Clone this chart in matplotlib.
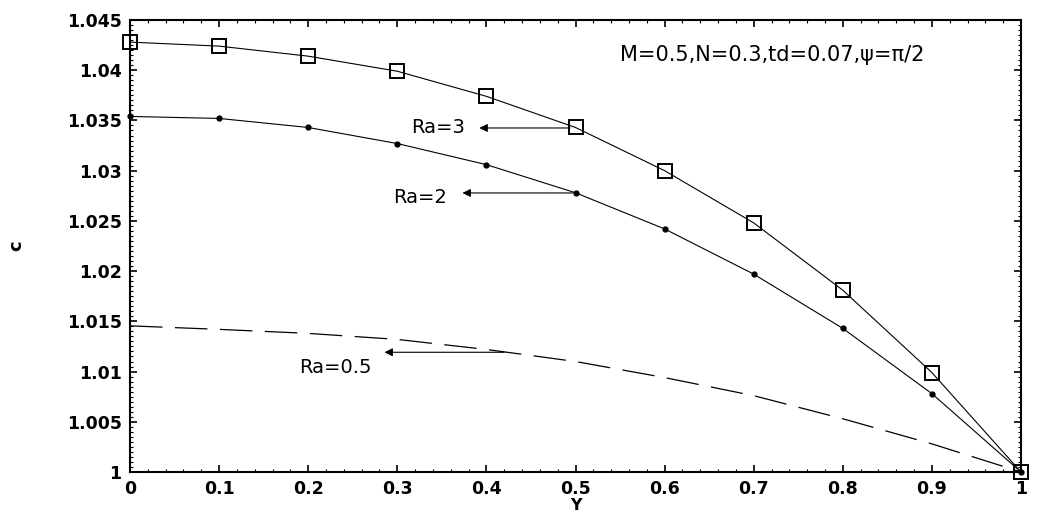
import numpy as np
import matplotlib
matplotlib.use('Agg')
import matplotlib.pyplot as plt
from matplotlib.ticker import MultipleLocator

# transverse coordinate Y and concentration c for three Rayleigh numbers
y_pos = [0.0, 0.1, 0.2, 0.3, 0.4, 0.5, 0.6, 0.7, 0.8, 0.9, 1.0]
c_ra3 = [1.0428, 1.0424, 1.0414, 1.0399, 1.0374, 1.0343, 1.0300, 1.0248, 1.0181, 1.0099, 1.0]
c_ra2 = [1.0354, 1.0352, 1.0343, 1.0327, 1.0306, 1.0278, 1.0242, 1.0197, 1.0143, 1.0078, 1.0]
c_ra05 = [1.01455, 1.0142, 1.0138, 1.0132, 1.0122, 1.0110, 1.0094, 1.0076, 1.0053, 1.0028, 1.0]

xticks = [0, 0.1, 0.2, 0.3, 0.4, 0.5, 0.6, 0.7, 0.8, 0.9, 1]
xticklabels = ["0", "0.1", "0.2", "0.3", "0.4", "0.5", "0.6", "0.7", "0.8", "0.9", "1"]
yticks = [1.0, 1.005, 1.01, 1.015, 1.02, 1.025, 1.03, 1.035, 1.04, 1.045]
yticklabels = ["1", "1.005", "1.01", "1.015", "1.02", "1.025", "1.03", "1.035", "1.04", "1.045"]

fig = plt.figure(figsize=(10.38, 5.16), dpi=100)
ax = fig.add_axes([130/1038, 44/516, 891/1038, 452/516])

ax.plot(y_pos, c_ra3, color='black', lw=0.8, marker='s', ms=10.5,
        mfc='none', mec='black', mew=1.4, clip_on=False, zorder=3)
ax.plot(y_pos, c_ra2, color='black', lw=0.8, marker='o', ms=3.5,
        mfc='black', mec='black', clip_on=False, zorder=3)
ax.plot(y_pos, c_ra05, color='black', lw=0.9, linestyle=(0, (26, 10)))

ax.set_xlim(0, 1)
ax.set_ylim(1.0, 1.045)
ax.set_xticks(xticks)
ax.set_xticklabels(xticklabels)
ax.set_yticks(yticks)
ax.set_yticklabels(yticklabels)
ax.xaxis.set_minor_locator(MultipleLocator(0.02))
ax.yaxis.set_minor_locator(MultipleLocator(0.0005))
ax.tick_params(which='both', direction='in', top=True, right=True)
ax.tick_params(which='major', length=5, width=1.2, labelsize=12.5, pad=6)
ax.tick_params(which='minor', length=2.5, width=0.8)
for lab in ax.get_xticklabels() + ax.get_yticklabels():
    lab.set_fontweight('bold')
for s in ax.spines.values():
    s.set_linewidth(1.5)

ax.set_xlabel("Y", fontsize=11.5, fontweight='bold', labelpad=0)
ax.set_ylabel("c", fontsize=13, fontweight='bold', labelpad=30)

# curve labels with arrows
arrow = dict(arrowstyle='-|>', color='black', lw=0.8, mutation_scale=12)
ax.annotate("", xy=(0.389, 1.03425), xytext=(0.497, 1.03425), arrowprops=arrow)
ax.text(0.376, 1.03428, "Ra=3", fontsize=14, ha='right', va='center')
ax.annotate("", xy=(0.370, 1.02778), xytext=(0.500, 1.02778), arrowprops=arrow)
ax.text(0.356, 1.02728, "Ra=2", fontsize=14, ha='right', va='center')
ax.annotate("", xy=(0.2825, 1.01192), xytext=(0.423, 1.01192), arrowprops=arrow)
ax.text(0.2716, 1.01038, "Ra=0.5", fontsize=14, ha='right', va='center')

ax.text(0.55, 1.04152, "M=0.5,N=0.3,td=0.07,\u03c8=\u03c0/2", fontsize=15,
        ha='left', va='center')

plt.savefig("out.png", dpi=100)
plt.close()
